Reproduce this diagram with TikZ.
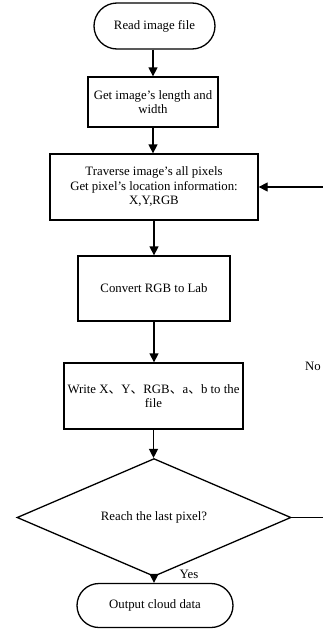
\documentclass[tikz,border=0pt]{standalone}
\usepackage{fontspec}
\setmainfont{Liberation Serif}
\newfontfamily\cjk{Noto Sans CJK SC}
\usetikzlibrary{shapes.geometric,shapes.misc,arrows.meta}
\begin{document}
\begin{tikzpicture}[x=1pt,y=-1pt,
  every node/.style={font=\fontsize{12.8}{14.5}\selectfont, inner sep=0pt, align=center},
  box/.style={draw, line width=1.3pt, rectangle},
  term/.style={draw, line width=1.3pt, rounded rectangle},
  dec/.style={draw, line width=1.3pt, diamond},
  arr/.style={line width=1.3pt, -{Triangle[length=9pt,width=9pt]}},
  lin/.style={line width=1.3pt}]
\useasboundingbox (0,0) rectangle (323,629);
\node[term, minimum width=121pt, minimum height=46pt] (start) at (154.5,26) {Read image file};
\node[box, minimum width=130pt, minimum height=50pt] (size) at (153,102) {Get image’s length and\\width};
\node[box, minimum width=208pt, minimum height=66pt] (trav) at (154,187) {Traverse image’s all pixels\\Get pixel’s location information:\\X,Y,RGB};
\node[box, minimum width=152pt, minimum height=65pt] (conv) at (154,288.5) {Convert RGB to Lab};
\node[box, minimum width=179pt, minimum height=66pt] (write) at (153.5,396) {Write X{\cjk 、}Y{\cjk 、}RGB{\cjk 、}a{\cjk 、}b to the\\file};
\node[dec, minimum width=274pt, minimum height=81pt] (last) at (154,517.5) {Reach the last pixel?};
\node[term, minimum width=156pt, minimum height=44pt] (out) at (155,605.5) {Output cloud data};
\node (yes) at (189,574) {Yes};
\node (no) at (313,366) {No};
\coordinate (r1) at (330,517.5);
\coordinate (r2) at (330,187);
\draw[arr] (start.south -| size.north) -- (size.north);
\draw[arr] (size.south) -- (size.south |- trav.north);
\draw[arr] (trav.south) -- (conv.north);
\draw[arr] (conv.south) -- (conv.south |- write.north);
\draw[arr] (write.south) -- (write.south |- last.north);
\draw[arr] (last.south) -- (last.south |- out.north);
\draw[lin] (last.east) -- (r1) -- (r2);
\draw[arr] (r2) -- (trav.east);
\end{tikzpicture}
\end{document}
